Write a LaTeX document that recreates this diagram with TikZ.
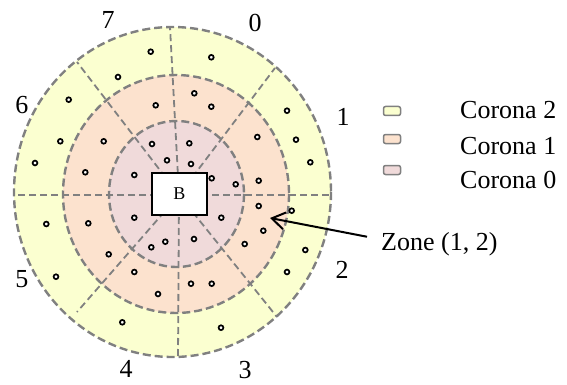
\documentclass[tikz,border=0pt]{standalone}
\usepackage{fontspec}
\setmainfont{Liberation Serif}
\usetikzlibrary{arrows.meta}
\definecolor{ringtwo}{RGB}{251,255,208}
\definecolor{ringone}{RGB}{252,226,206}
\definecolor{ringzero}{RGB}{240,218,218}
\definecolor{rimgray}{RGB}{128,128,128}
\begin{document}
\begin{tikzpicture}[
  x=1pt, y=-1pt,
  font=\fontsize{26}{30}\selectfont,
  rim/.style={draw=rimgray, line width=2.4pt, dash pattern=on 8pt off 4pt},
  spoke/.style={draw=rimgray, line width=1.8pt, dash pattern=on 7pt off 4pt},
  grain/.style={draw=black, fill=white, line width=1.7pt},
  legbox/.style={draw=rimgray, fill=#1, line width=1.5pt, rounded corners=2pt, minimum width=17pt, minimum height=9pt, inner sep=0pt},
  lbl/.style={inner sep=0pt},
  arrow/.style={-{Straight Barb[length=13pt,width=17pt]}, line width=2pt},
]
\useasboundingbox (0,0) rectangle (567,385);

% coronas
\fill[ringtwo]  (172.5,192) ellipse [x radius=158.5, y radius=165];
\fill[ringone]  (176,194)   ellipse [x radius=113,   y radius=119];
\fill[ringzero] (176.5,194) ellipse [x radius=67.5,  y radius=73];
\draw[rim] (172.5,192) ellipse [x radius=158.5, y radius=165];
\draw[rim] (176,194)   ellipse [x radius=113,   y radius=119];
\draw[rim] (176.5,194) ellipse [x radius=67.5,  y radius=73];

% sector lines
\coordinate (hub) at (179,195);
\foreach \px/\py in {170/27, 275/68, 331/195, 277/317, 178/357, 77/312, 14/195, 77/62}
  \draw[spoke] (hub) -- (\px,\py);

% grains
\foreach \x/\y in {150.7/51.7, 211.3/57.3, 118/77, 68.7/99.7, 194.3/93.3, 155.7/105.3,
    211.3/106.7, 287/110.7, 60.3/141.3, 103.7/141.3, 257.3/137, 296/139.7,
    152/144, 189.3/143.3, 167/160.3, 191/164, 35/163, 310.3/162.3,
    85.3/172.3, 134.3/175, 211.7/178.3, 235.7/184.3, 258.7/180.7,
    46.3/224, 88.3/223.3, 134.3/217.7, 221.3/217.7, 258.7/206, 291.7/210.7,
    263.3/230.7, 244.7/244, 305.3/250, 108.7/254.3, 151.3/247.3, 165.3/241.7,
    194/239, 56/276.7, 134.3/272, 287/272, 158/294, 191/283.7, 211.7/283.7,
    122.3/322.3, 221/327.7}
  \draw[grain] (\x,\y) circle (2.4pt);

\node[draw, fill=white, line width=1.2pt, minimum width=55pt, minimum height=42pt,
  font=\fontsize{18}{20}\selectfont] (base) at (179.5,194) {B};

% sector numbers
\node[lbl] (s0) at (255,23)  {0};
\node[lbl] (s1) at (343,117) {1};
\node[lbl] (s2) at (342,270) {2};
\node[lbl] (s3) at (245,370) {3};
\node[lbl] (s4) at (126,369) {4};
\node[lbl] (s5) at (22,279)  {5};
\node[lbl] (s6) at (22,105)  {6};
\node[lbl] (s7) at (108,20)  {7};

% legend
\node[legbox=ringtwo]  (key2) at (392,111) {};
\node[legbox=ringone]  (key1) at (392,139) {};
\node[legbox=ringzero] (key0) at (392,170) {};
\node[lbl, anchor=base west] (name2) at (460,119) {Corona 2};
\node[lbl, anchor=base west] (name1) at (460,154) {Corona 1};
\node[lbl, anchor=base west] (name0) at (460,188) {Corona 0};

% zone pointer
\coordinate (zonetip) at (270,218);
\node[lbl, anchor=base west] (zone) at (381,250) {Zone (1, 2)};
\draw[arrow] ([shift={(-14,-7)}]zone.west) -- (zonetip);
\end{tikzpicture}
\end{document}
